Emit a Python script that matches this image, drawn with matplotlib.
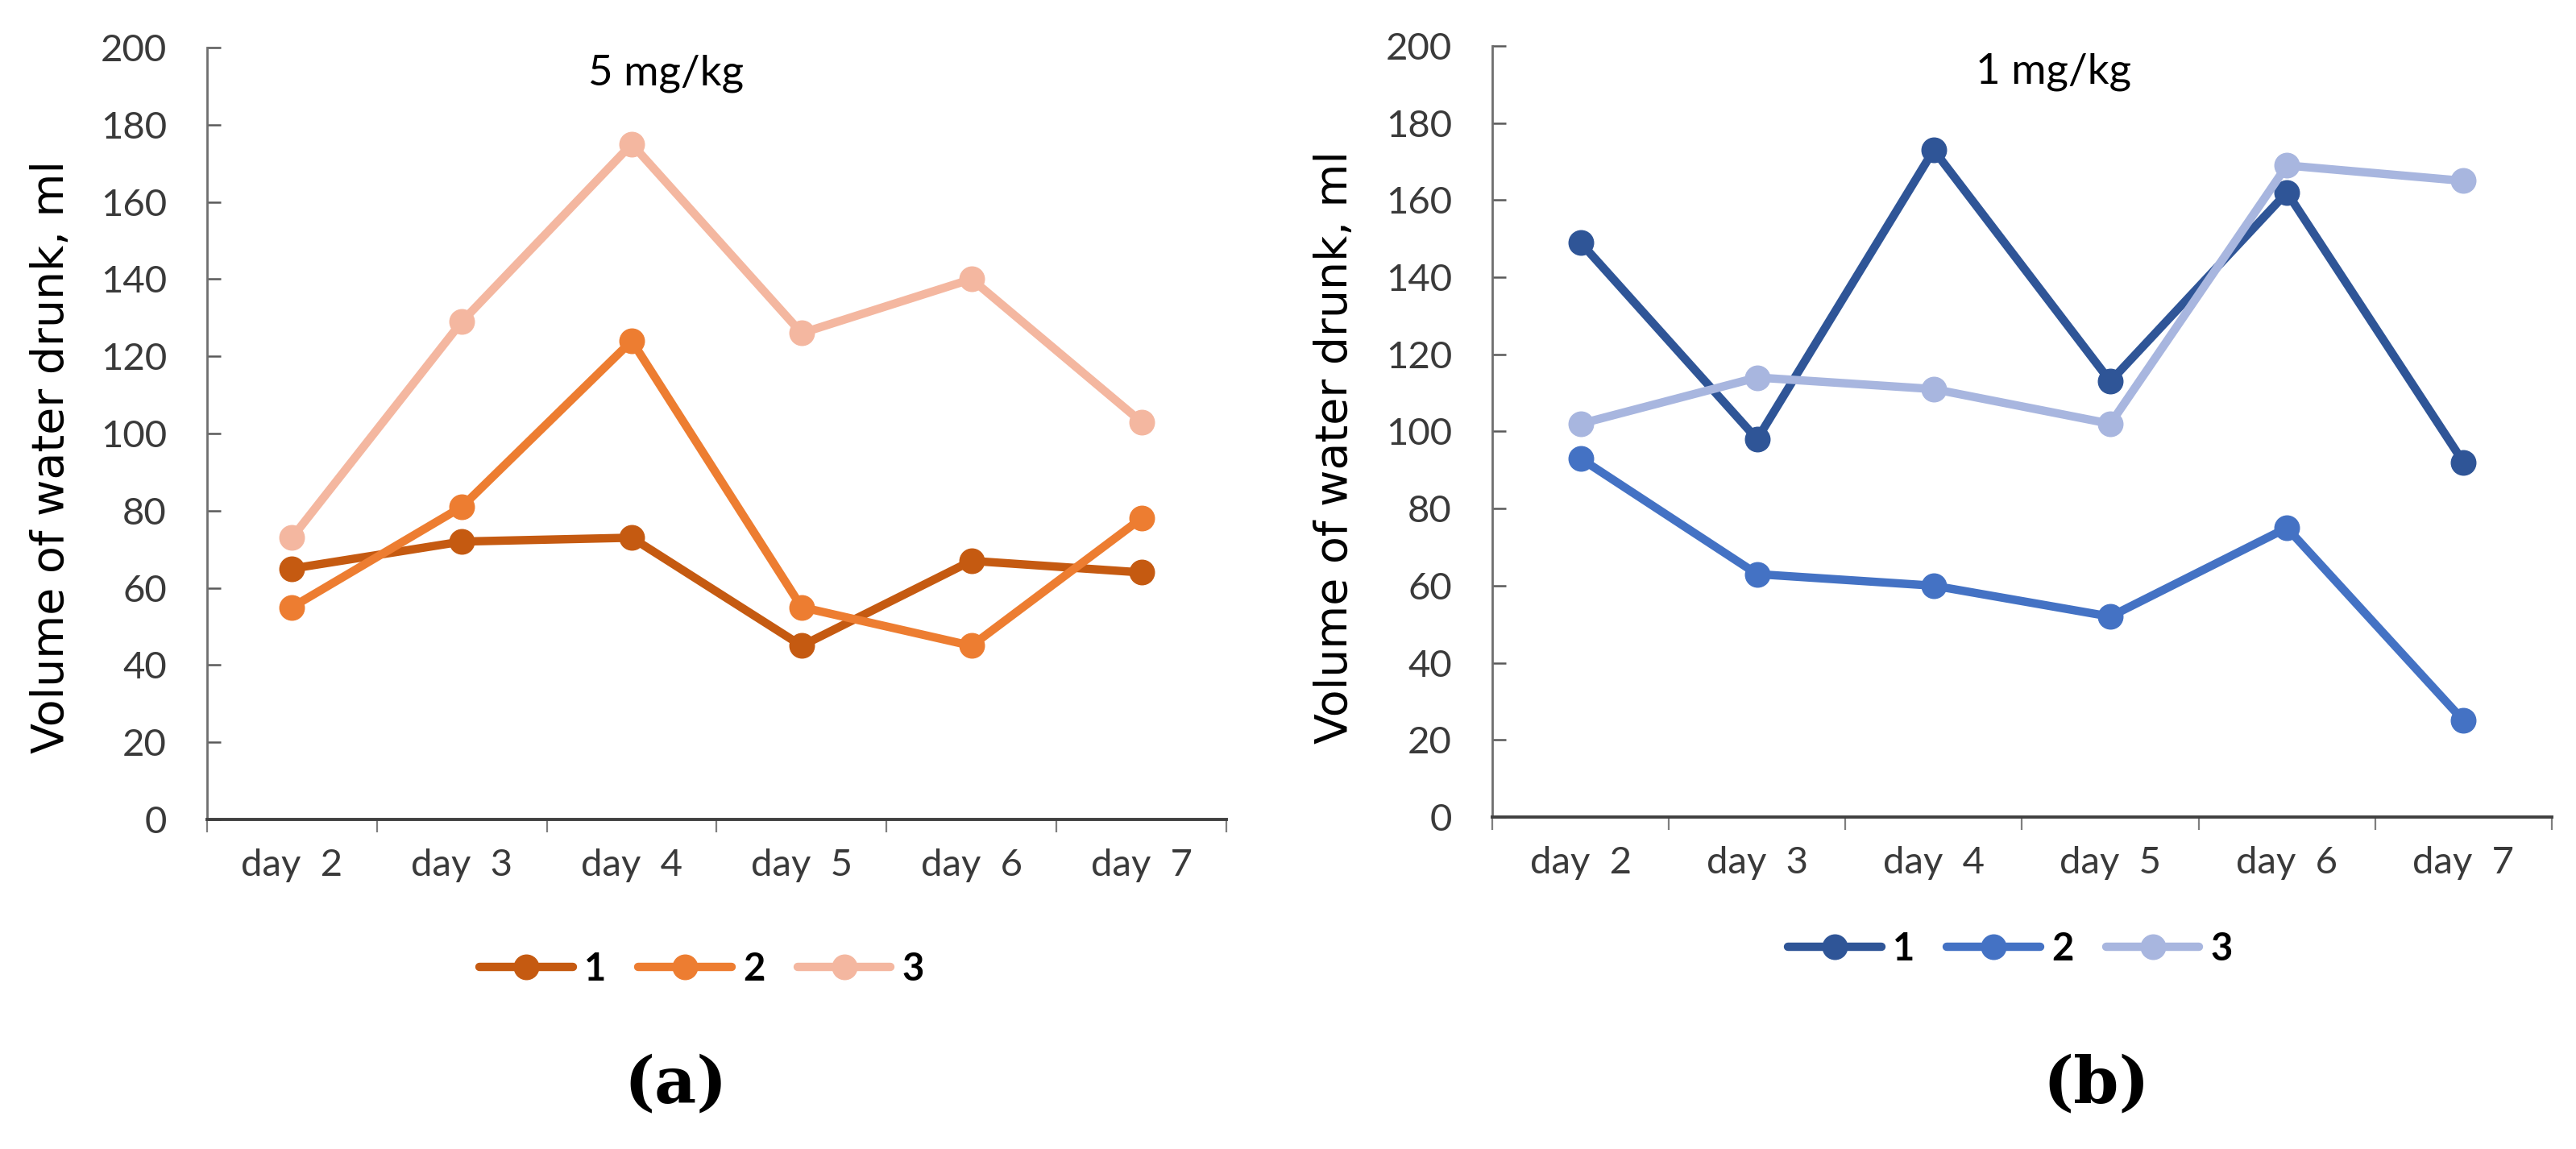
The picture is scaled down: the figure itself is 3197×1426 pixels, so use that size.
import matplotlib
matplotlib.use("Agg")
import matplotlib.pyplot as plt
from matplotlib.lines import Line2D

days = ["day  2", "day  3", "day  4", "day  5", "day  6", "day  7"]
series_names = ["1", "2", "3"]

a_s1 = [65, 72, 73, 45, 67, 64]
a_s2 = [55, 81, 124, 55, 45, 78]
a_s3 = [73, 129, 175, 126, 140, 103]

b_s1 = [149, 98, 173, 113, 162, 92]
b_s2 = [93, 63, 60, 52, 75, 25]
b_s3 = [102, 114, 111, 102, 169, 165]

y_ticks = [0, 20, 40, 60, 80, 100, 120, 140, 160, 180, 200]

a_colors = ["#C55A11", "#ED7D31", "#F4B7A0"]
b_colors = ["#2F5597", "#4472C4", "#A8B6DF"]

W, H = 3197, 1426
fig = plt.figure(figsize=(W / 100, H / 100), dpi=100)

tick_font = "Lato"
LW = 7.5
MS = 22


def make_panel(rect, data, colors, title, title_x, label_x, label_y,
               leg_center):
    ax = fig.add_axes(rect)
    x = list(range(len(days)))
    for vals, c, name in zip(data, colors, series_names):
        ax.plot(x, vals, color=c, lw=LW, marker="o", ms=MS, label=name,
                solid_capstyle="round", solid_joinstyle="round")
    ax.set_xlim(-0.5, len(days) - 0.5)
    ax.set_ylim(0, 200)
    ax.set_yticks(y_ticks)
    ax.set_yticklabels([str(v) for v in y_ticks], fontfamily=tick_font,
                       fontsize=34, color="#3A3A3A")
    ax.set_xticks(x)
    ax.set_xticklabels(days, fontfamily=tick_font, fontsize=34, color="#3A3A3A")
    ax.set_xticks([i - 0.5 for i in range(len(days) + 1)], minor=True)
    ax.tick_params(axis="x", which="major", length=0, pad=26)
    ax.tick_params(axis="x", which="minor", length=11.5, width=1.6,
                   direction="out", color="#7F7F7F")
    ax.tick_params(axis="y", which="major", length=12, width=1.8,
                   direction="in", pad=36, color="#595959")
    for s in ["top", "right"]:
        ax.spines[s].set_visible(False)
    ax.spines["left"].set_linewidth(2.0)
    ax.spines["left"].set_color("#6F6F6F")
    ax.spines["bottom"].set_linewidth(2.8)
    ax.spines["bottom"].set_color("#404040")
    ax.set_ylabel("Volume of water drunk, ml", fontfamily="DejaVu Sans",
                  fontsize=40, color="#000000")
    ax.yaxis.set_label_coords(label_x, label_y)
    ax.text(title_x, 0.966, title, transform=ax.transAxes, ha="center",
            va="center", fontfamily=tick_font, fontsize=38, color="#000000")
    handles = [Line2D([0], [0], color=c, lw=LW, marker="o", ms=MS,
                      solid_capstyle="round") for c in colors]
    fig.legend(handles, series_names, loc="center",
               bbox_to_anchor=leg_center, ncol=3, frameon=False,
               prop={"family": tick_font, "weight": "bold", "size": 34},
               handlelength=2.45, handletextpad=0.3,
               columnspacing=0.85, markerscale=1.0)
    return ax


ax_a = make_panel([257 / W, 1 - 1017 / H, 1265 / W, 958 / H],
                  [a_s1, a_s2, a_s3], a_colors, "5 mg/kg", 0.45,
                  -0.131, 0.47, (871 / W, 1 - 1203 / H))
ax_b = make_panel([1852 / W, 1 - 1014 / H, 1315 / W, 957 / H],
                  [b_s1, b_s2, b_s3], b_colors, "1 mg/kg", 0.53,
                  -0.128, 0.48, (2495 / W, 1 - 1178 / H))

fig.text(838 / W, 1 - 1346 / H, "(a)", ha="center", va="center",
         fontfamily="DejaVu Serif", fontweight="bold", fontsize=58)
fig.text(2602 / W, 1 - 1346 / H, "(b)", ha="center", va="center",
         fontfamily="DejaVu Serif", fontweight="bold", fontsize=58)

fig.savefig("out.png", dpi=100)
